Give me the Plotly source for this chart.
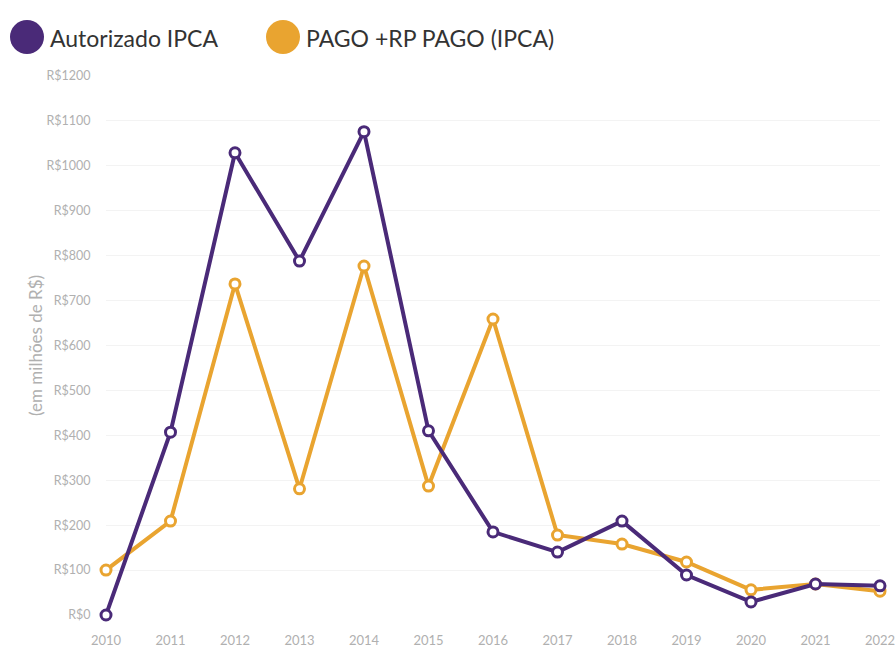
import plotly.graph_objects as go

years = [2010, 2011, 2012, 2013, 2014, 2015, 2016, 2017, 2018, 2019, 2020, 2021, 2022]
autorizado = [0, 407, 1029, 788, 1076, 410, 185, 140, 209, 89, 29, 69, 65]
pago = [100, 209, 737, 281, 777, 287, 659, 178, 158, 118, 56, 69, 53]
tick_vals = [0, 100, 200, 300, 400, 500, 600, 700, 800, 900, 1000, 1100, 1200]
tick_text = ["R$" + str(v) for v in tick_vals]
series_names = ["Autorizado IPCA", "PAGO +RP PAGO (IPCA)"]
y_title = "(em milhões de R$)"

PURPLE = "#4a2a78"
ORANGE = "#e9a430"

W, H = 896, 649
L, R, T, B = 106, 16, 76, 34

fig = go.Figure()
for vals, col in [(pago, ORANGE), (autorizado, PURPLE)]:
    fig.add_trace(go.Scatter(
        x=years, y=vals, mode="lines+markers",
        line=dict(color=col, width=4),
        marker=dict(size=10, color="white", line=dict(color=col, width=3)),
        showlegend=False, cliponaxis=False, hoverinfo="skip",
    ))

def px2paper(px, py):
    return (px - L) / (W - L - R), (H - B - py) / (H - T - B)

shapes = []
annotations = []
for name, col, cx, tx in [(series_names[0], PURPLE, 27, 48), (series_names[1], ORANGE, 283, 304)]:
    x0, y0 = px2paper(cx - 17, 37 + 17)
    x1, y1 = px2paper(cx + 17, 37 - 17)
    shapes.append(dict(type="circle", xref="paper", yref="paper", x0=x0, y0=y0, x1=x1, y1=y1,
                       fillcolor=col, line=dict(width=0)))
    ax, ay = px2paper(tx, 38)
    annotations.append(dict(xref="paper", yref="paper", x=ax, y=ay, xanchor="left", yanchor="middle",
                            text=name, showarrow=False, font=dict(size=23, color="#333333", family="Lato")))

tx_, ty_ = px2paper(35, 346)
annotations.append(dict(xref="paper", yref="paper", x=tx_, y=ty_, xanchor="center", yanchor="middle",
                        text=y_title, textangle=-90, showarrow=False,
                        font=dict(size=17, color="#b0b0b0", family="Lato")))

fig.update_layout(
    width=W, height=H,
    margin=dict(l=L, r=R, t=T, b=B),
    paper_bgcolor="white", plot_bgcolor="white",
    font=dict(family="Lato", color="#b0b0b0", size=12),
    shapes=shapes, annotations=annotations,
    xaxis=dict(range=[2010, 2022], tickvals=years, ticktext=[str(y) for y in years],
               showgrid=False, zeroline=False, showline=False, automargin=False,
               tickfont=dict(size=13, color="#b0b0b0"), ticks="outside", ticklen=13, tickcolor="rgba(0,0,0,0)"),
    yaxis=dict(range=[0, 1200], tickvals=tick_vals, ticktext=tick_text, automargin=False,
               showgrid=True, gridcolor="#f3f3f3", gridwidth=1, zeroline=False, showline=False,
               tickfont=dict(size=12.5, color="#b0b0b0"), ticks="outside", ticklen=12, tickcolor="rgba(0,0,0,0)"),
)

fig.write_html("out.html", config={"displayModeBar": False},
               post_script="document.body.style.margin='0';document.body.style.overflow='hidden';")
